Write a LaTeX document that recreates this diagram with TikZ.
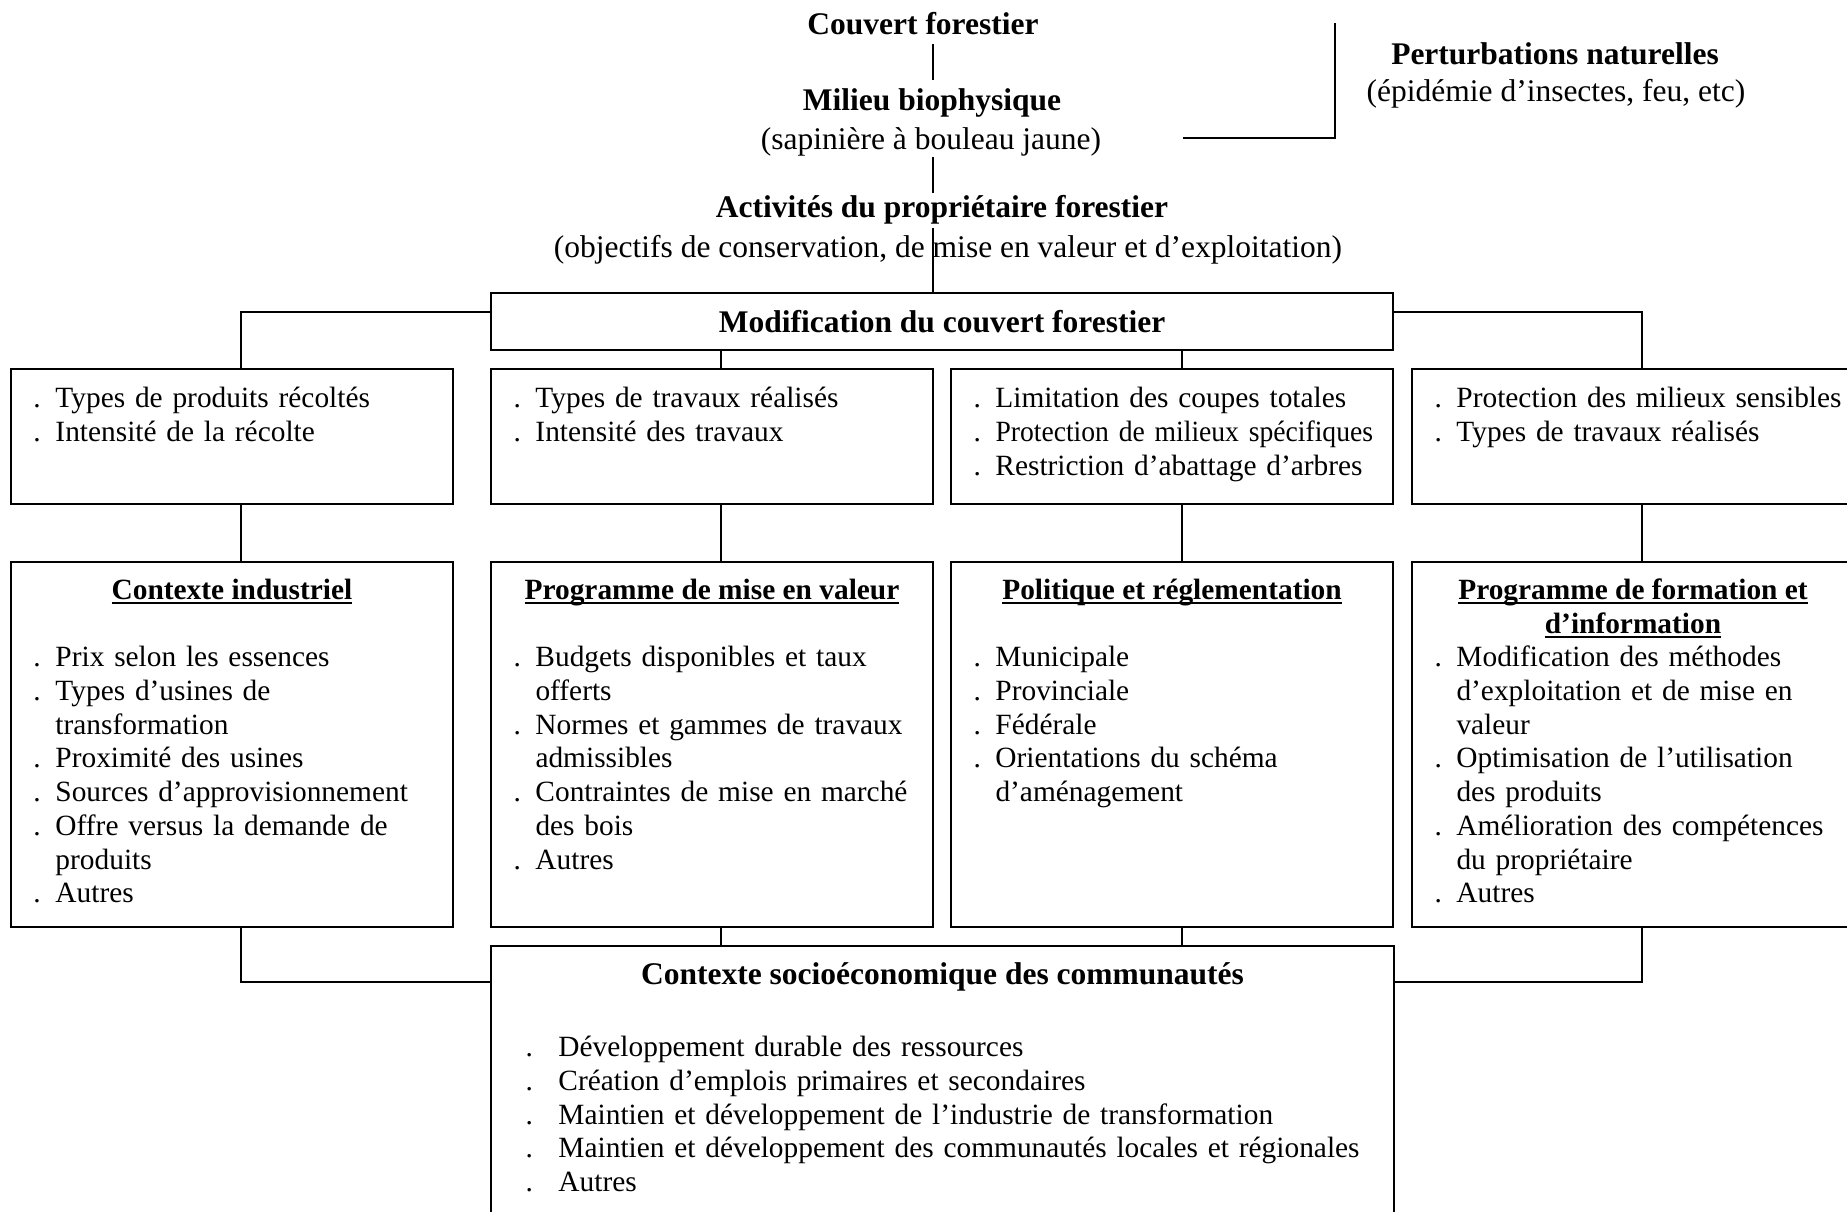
\documentclass[tikz,border=0pt]{standalone}
\usepackage{fontspec}
\setmainfont{Liberation Serif}
\usepackage{tikz}
\usetikzlibrary{positioning}
\newcommand{\bigfont}{\fontsize{12.6}{14}\selectfont}
\newcommand{\boxfont}{\fontsize{11.75}{13.5}\selectfont}
\newcommand{\pnt}[1][8.8pt]{\makebox[#1][l]{.}}
\newcommand{\cnt}[1][8.8pt]{\hspace*{#1}}
\newcommand{\tight}[1]{{\addfontfeature{FakeStretch=0.94}#1}}
\newlength{\ulnwd}
\newcommand{\uln}[1]{\settowidth{\ulnwd}{#1}\rlap{\rule[-1.7pt]{\ulnwd}{0.8pt}}#1}

\begin{document}
\begin{tikzpicture}[x=0.4pt, y=-0.4pt, font=\bigfont]
    % Define the styles for boxes, lines and texts
    \tikzstyle{box} = [draw, line width=0.8pt, inner sep=0pt, minimum width=176.8pt]
    \tikzstyle{link} = [line width=0.45pt]
    \tikzstyle{title} = [font=\bigfont\bfseries, anchor=base]
    \tikzstyle{sub} = [anchor=base]
    \tikzstyle{head} = [font=\boxfont\bfseries, align=center, inner sep=0pt]
    \tikzstyle{items} = [font=\boxfont, align=left, text width=180pt, inner sep=0pt]

    % Page frame
    \useasboundingbox (0,0) rectangle (1847,1212);
    \clip (0,0) rectangle (1847,1212);

    % Chain at the top
    \node[title] (couvert) at (923,35) {Couvert forestier};
    \node[title] (milieu) at (932,111) {Milieu biophysique};
    \node[sub, inner ysep=0pt] (milieusub) at (931,150) {(sapinière à bouleau jaune)};
    \node[title, inner ysep=1pt] (activ) at (942,218) {Activités du propriétaire forestier};
    \node[sub] (activsub) at (948,257) {(objectifs de conservation, de mise en valeur et d'exploitation)};

    % Natural disturbances on the side
    \node[title] (pert) at (1555,65) {Perturbations naturelles};
    \node[sub] (pertsub) at (1556,102) {(épidémie d'insectes, feu, etc)};

    % Main box
    \node[box, minimum width=360.8pt, minimum height=22.8pt, font=\bigfont\bfseries] (modif) at (942,321.5) {Modification du couvert forestier};

    % First row of boxes
    \node[box, minimum height=54pt] (recolte) at (232,436.5) {};
    \node[box, minimum height=54pt] (travaux) at (712,436.5) {};
    \node[box, minimum height=54pt] (coupes) at (1172,436.5) {};
    \node[box, minimum height=54pt] (milieux) at (1633,436.5) {};
    \node[items, below right=6.15pt and 9.2pt of recolte.north west] (recoltetxt) {\strut\pnt Types de produits récoltés\\\pnt Intensité de la récolte};
    \node[items, below right=6.15pt and 9.2pt of travaux.north west] (travauxtxt) {\strut\pnt Types de travaux réalisés\\\pnt Intensité des travaux};
    \node[items, below right=6.15pt and 9.2pt of coupes.north west] (coupestxt) {\strut\pnt Limitation des coupes totales\\\pnt \tight{Protection de milieux spécifiques}\\\pnt Restriction d'abattage d'arbres};
    \node[items, below right=6.15pt and 9.2pt of milieux.north west] (milieuxtxt) {\strut\pnt Protection des milieux sensibles\\\pnt Types de travaux réalisés};

    % Second row of boxes
    \node[box, minimum height=146pt] (industriel) at (232,744.5) {};
    \node[box, minimum height=146pt] (miseval) at (712,744.5) {};
    \node[box, minimum height=146pt] (politique) at (1172,744.5) {};
    \node[box, minimum height=146pt] (formation) at (1633,744.5) {};
    \node[head, below=5.75pt of industriel.north] (industrielhead) {\strut\uln{Contexte industriel}};
    \node[head, below=5.75pt of miseval.north] (misevalhead) {\strut\uln{Programme de mise en valeur}};
    \node[head, below=5.75pt of politique.north] (politiquehead) {\strut\uln{Politique et réglementation}};
    \node[head, below=5.75pt of formation.north] (formationhead) {\strut\uln{Programme de formation et}\\\uln{d'information}};
    \node[items, below right=32.55pt and 9.2pt of industriel.north west] (industrieltxt) {\strut\pnt Prix selon les essences\\\pnt Types d'usines de\\\cnt transformation\\\pnt Proximité des usines\\\pnt Sources d'approvisionnement\\\pnt Offre versus la demande de\\\cnt produits\\\pnt Autres};
    \node[items, below right=32.55pt and 9.2pt of miseval.north west] (misevaltxt) {\strut\pnt Budgets disponibles et taux\\\cnt offerts\\\pnt Normes et gammes de travaux\\\cnt admissibles\\\pnt Contraintes de mise en marché\\\cnt des bois\\\pnt Autres};
    \node[items, below right=32.55pt and 9.2pt of politique.north west] (politiquetxt) {\strut\pnt Municipale\\\pnt Provinciale\\\pnt Fédérale\\\pnt Orientations du schéma\\\cnt d'aménagement};
    \node[items, below right=32.55pt and 9.2pt of formation.north west] (formationtxt) {\strut\pnt Modification des méthodes\\\cnt d'exploitation et de mise en\\\cnt valeur\\\pnt Optimisation de l'utilisation\\\cnt des produits\\\pnt Amélioration des compétences\\\cnt du propriétaire\\\pnt Autres};

    % Bottom box
    \node[box, minimum width=361.2pt, minimum height=131.2pt] (socio) at (942.5,1110) {};
    \node[head, font=\bigfont\bfseries, below=5.8pt of socio.north] (sociohead) {\strut Contexte socioéconomique des communautés};
    \node[items, text width=360pt, below right=34.95pt and 14pt of socio.north west] (sociotxt) {\strut\pnt[13.2pt]Développement durable des ressources\\\pnt[13.2pt]Création d'emplois primaires et secondaires\\\pnt[13.2pt]Maintien et développement de l'industrie de transformation\\\pnt[13.2pt]Maintien et développement des communautés locales et régionales\\\pnt[13.2pt]Autres};

    % Columns of the connectors
    \coordinate (trunk) at (933,0);
    \coordinate (col1) at (241,0);
    \coordinate (col2) at (721,0);
    \coordinate (col3) at (1182,0);
    \coordinate (col4) at (1642,0);

    % Trunk of the chain
    \draw[link] (couvert.south -| trunk) -- (milieu.north -| trunk);
    \draw[link] (milieusub.south -| trunk) -- (activ.north -| trunk);
    \draw[link] (activ.south -| trunk) -- (modif.north -| trunk);

    % Bracket next to the disturbances
    \coordinate (perttop) at (1335,23);
    \coordinate (pertend) at (1183,138);
    \draw[line width=0.65pt] (perttop) |- (pertend);

    % From the main box to the first row
    \draw[link] ([yshift=3.8pt]modif.west) -| (recolte.north -| col1);
    \draw[link] ([yshift=3.8pt]modif.east) -| (milieux.north -| col4);
    \draw[link] (modif.south -| col2) -- (travaux.north -| col2);
    \draw[link] (modif.south -| col3) -- (coupes.north -| col3);

    % From the first row to the second row
    \draw[link] (recolte.south -| col1) -- (industriel.north -| col1);
    \draw[link] (travaux.south -| col2) -- (miseval.north -| col2);
    \draw[link] (coupes.south -| col3) -- (politique.north -| col3);
    \draw[link] (milieux.south -| col4) -- (formation.north -| col4);

    % From the second row to the bottom box
    \draw[link] (industriel.south -| col1) |- ([yshift=-14.8pt]socio.north west);
    \draw[link] (miseval.south -| col2) -- (socio.north -| col2);
    \draw[link] (politique.south -| col3) -- (socio.north -| col3);
    \draw[link] (formation.south -| col4) |- ([yshift=-14.8pt]socio.north east);
\end{tikzpicture}
\end{document}
